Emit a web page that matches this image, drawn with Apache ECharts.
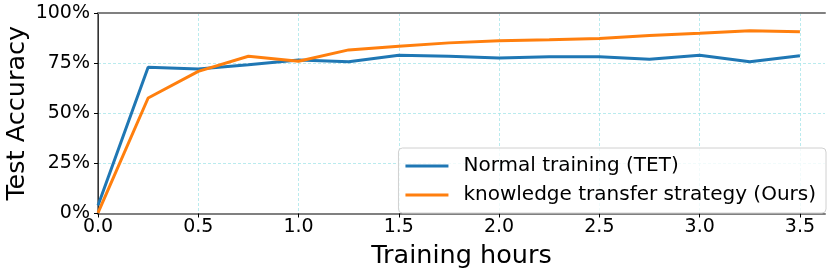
<!DOCTYPE html>
<html>
<head>
<meta charset="utf-8">
<script src="https://cdn.jsdelivr.net/npm/echarts@6/dist/echarts.min.js"></script>
<style>html,body{margin:0;padding:0;background:#fff}#c{width:831px;height:274px}</style>
</head>
<body>
<div id="c"></div>
<script>
const hours = [0, 0.25, 0.5, 0.75, 1.0, 1.25, 1.5, 1.75, 2.0, 2.25, 2.5, 2.75, 3.0, 3.25, 3.5];
const normalTET = [4.0, 72.9, 72.1, 74.2, 76.6, 75.7, 78.9, 78.4, 77.6, 78.2, 78.2, 76.9, 78.9, 75.7, 78.7];
const oursKT = [0.3, 57.6, 70.9, 78.4, 75.9, 81.6, 83.4, 85.1, 86.1, 86.6, 87.3, 88.8, 89.9, 91.2, 90.7];
const seriesNames = ['Normal training (TET)', 'knowledge transfer strategy (Ours)'];
const xTicks = [0, 0.5, 1.0, 1.5, 2.0, 2.5, 3.0, 3.5];
const yTicks = [0, 25, 50, 75, 100];

const FONT = 'DejaVu Sans';
const chart = echarts.init(document.getElementById('c'), null, {renderer: 'canvas'});
const gridLine = {show: true, lineStyle: {color: '#a8e6ea', type: [3, 2], width: 0.8}};
chart.setOption({
  animation: false,
  grid: {left: 98, top: 13, right: 6, bottom: 60.5, containLabel: false, outerBoundsMode: 'none'},
  xAxis: [{
    type: 'value', min: 0, max: 3.625, interval: 0.5,
    name: 'Training hours', nameLocation: 'middle', nameGap: 30, nameMoveOverlap: false,
    nameTextStyle: {fontFamily: FONT, fontSize: 25.5, color: '#000'},
    axisLine: {show: true, onZero: false, lineStyle: {color: '#808080', width: 2}},
    axisTick: {show: true, length: 4, lineStyle: {color: '#000', width: 1}, customValues: xTicks},
    axisLabel: {fontFamily: FONT, fontSize: 19, color: '#000', margin: 4,
      customValues: xTicks, formatter: v => v.toFixed(1)},
    splitLine: gridLine
  }, {
    type: 'value', position: 'top', min: 0, max: 3.625,
    axisLine: {show: true, onZero: false, lineStyle: {color: '#808080', width: 2}},
    axisTick: {show: false}, axisLabel: {show: false}, splitLine: {show: false}
  }],
  yAxis: [{
    type: 'value', min: 0, max: 100, interval: 25,
    name: 'Test Accuracy', nameLocation: 'middle', nameGap: 68, nameMoveOverlap: false,
    nameTextStyle: {fontFamily: FONT, fontSize: 25.5, color: '#000'},
    axisLine: {show: true, lineStyle: {color: '#808080', width: 2}},
    axisTick: {show: true, length: 4, lineStyle: {color: '#000', width: 1}},
    axisLabel: {fontFamily: FONT, fontSize: 19, color: '#000', margin: 8, formatter: v => v + '%'},
    splitLine: gridLine
  }, {
    type: 'value', position: 'right', min: 0, max: 100,
    axisLine: {show: true, lineStyle: {color: '#333', width: 1}},
    axisTick: {show: false}, axisLabel: {show: false}, splitLine: {show: false}
  }],
  legend: {
    right: 5, bottom: 61, orient: 'vertical',
    itemWidth: 43, itemHeight: 3, itemGap: 9,
    padding: [8, 10, 8, 7],
    borderColor: '#d0d0d0', borderWidth: 1, borderRadius: 4,
    backgroundColor: 'rgba(255,255,255,0.8)',
    textStyle: {fontFamily: FONT, fontSize: 20, color: '#000', padding: [0, 0, 0, 10]},
    icon: 'rect',
    data: seriesNames
  },
  series: [{
    name: seriesNames[0], type: 'line', showSymbol: false,
    data: hours.map((h, i) => [h, normalTET[i]]),
    lineStyle: {color: '#1f77b4', width: 3}, itemStyle: {color: '#1f77b4'}
  }, {
    name: seriesNames[1], type: 'line', showSymbol: false,
    data: hours.map((h, i) => [h, oursKT[i]]),
    lineStyle: {color: '#ff7f0e', width: 3}, itemStyle: {color: '#ff7f0e'}
  }]
});
</script>
</body>
</html>
